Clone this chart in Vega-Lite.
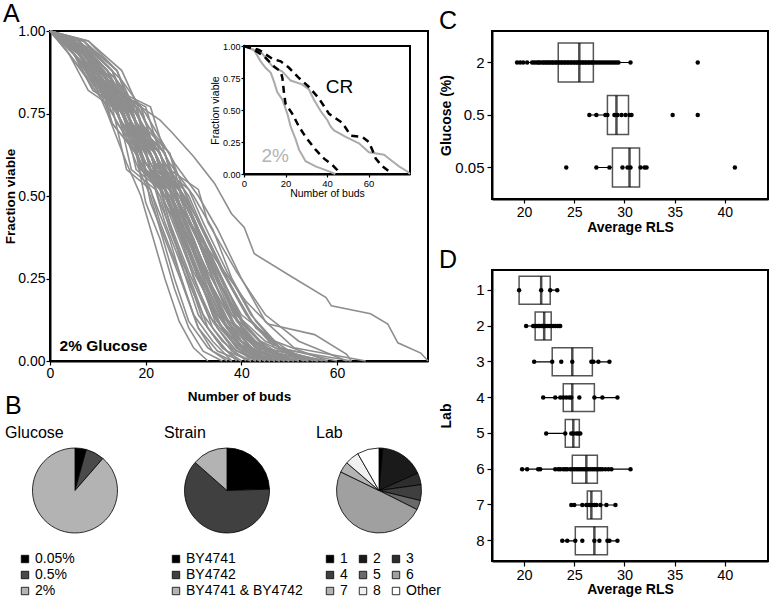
{
"$schema": "https://vega.github.io/schema/vega-lite/v6.json",
"background": "white",
"padding": {"left": 2, "top": 1, "right": 0, "bottom": 0},
"config": {
 "font": "Liberation Sans",
 "view": {"stroke": "black", "strokeWidth": 2},
 "axis": {"grid": false, "domainColor": "black", "domainWidth": 2, "tickColor": "black", "tickWidth": 1.2, "labelColor": "black", "titleColor": "black", "labelFontSize": 15, "titleFontSize": 14, "titleFontWeight": "bold", "labelFlush": false, "labelPadding": 2, "tickSize": 5},
 "title": {"fontSize": 25, "fontWeight": "normal", "anchor": "start", "color": "black"},
 "legend": {"symbolType": "square", "symbolSize": 55, "symbolStrokeColor": "black", "symbolStrokeWidth": 0.8, "labelFontSize": 14, "labelColor": "black", "rowPadding": 2, "labelOffset": 3, "padding": 0}
},
"datasets": {
 "curves": [
{"c":1,"x":0,"y":1},{"c":1,"x":4,"y":0.95},{"c":1,"x":9,"y":0.85},{"c":1,"x":12,"y":0.75},{"c":1,"x":16,"y":0.6},{"c":1,"x":19,"y":0.5},{"c":1,"x":21,"y":0.4},{"c":1,"x":24,"y":0.25},{"c":1,"x":27,"y":0.12},{"c":1,"x":30,"y":0.04},{"c":1,"x":33,"y":0},
{"c":2,"x":0,"y":1},{"c":2,"x":5,"y":0.97},{"c":2,"x":10,"y":0.88},{"c":2,"x":13,"y":0.72},{"c":2,"x":18,"y":0.63},{"c":2,"x":20,"y":0.48},{"c":2,"x":23,"y":0.37},{"c":2,"x":26,"y":0.22},{"c":2,"x":29,"y":0.1},{"c":2,"x":32,"y":0.03},{"c":2,"x":36,"y":0},
{"c":3,"x":0,"y":1},{"c":3,"x":4,"y":0.93},{"c":3,"x":8,"y":0.82},{"c":3,"x":13,"y":0.77},{"c":3,"x":16,"y":0.58},{"c":3,"x":21,"y":0.52},{"c":3,"x":23,"y":0.42},{"c":3,"x":27,"y":0.27},{"c":3,"x":30,"y":0.14},{"c":3,"x":34,"y":0.06},{"c":3,"x":38,"y":0},
{"c":4,"x":0,"y":1},{"c":4,"x":6,"y":0.95},{"c":4,"x":11,"y":0.85},{"c":4,"x":14,"y":0.75},{"c":4,"x":18,"y":0.6},{"c":4,"x":21,"y":0.5},{"c":4,"x":23,"y":0.4},{"c":4,"x":26,"y":0.25},{"c":4,"x":29,"y":0.12},{"c":4,"x":33,"y":0.04},{"c":4,"x":37,"y":0},
{"c":5,"x":0,"y":1},{"c":5,"x":4,"y":0.97},{"c":5,"x":9,"y":0.88},{"c":5,"x":13,"y":0.72},{"c":5,"x":18,"y":0.63},{"c":5,"x":22,"y":0.48},{"c":5,"x":25,"y":0.37},{"c":5,"x":28,"y":0.22},{"c":5,"x":31,"y":0.1},{"c":5,"x":34,"y":0.03},{"c":5,"x":38,"y":0},
{"c":6,"x":0,"y":1},{"c":6,"x":5,"y":0.93},{"c":6,"x":9,"y":0.82},{"c":6,"x":14,"y":0.77},{"c":6,"x":17,"y":0.58},{"c":6,"x":22,"y":0.52},{"c":6,"x":24,"y":0.42},{"c":6,"x":28,"y":0.27},{"c":6,"x":32,"y":0.14},{"c":6,"x":36,"y":0.06},{"c":6,"x":41,"y":0},
{"c":7,"x":0,"y":1},{"c":7,"x":5,"y":0.95},{"c":7,"x":10,"y":0.85},{"c":7,"x":14,"y":0.75},{"c":7,"x":19,"y":0.6},{"c":7,"x":23,"y":0.5},{"c":7,"x":25,"y":0.4},{"c":7,"x":29,"y":0.25},{"c":7,"x":32,"y":0.12},{"c":7,"x":36,"y":0.04},{"c":7,"x":40,"y":0},
{"c":8,"x":0,"y":1},{"c":8,"x":6,"y":0.97},{"c":8,"x":11,"y":0.88},{"c":8,"x":15,"y":0.72},{"c":8,"x":20,"y":0.63},{"c":8,"x":23,"y":0.48},{"c":8,"x":26,"y":0.37},{"c":8,"x":30,"y":0.22},{"c":8,"x":33,"y":0.1},{"c":8,"x":37,"y":0.03},{"c":8,"x":42,"y":0},
{"c":9,"x":0,"y":1},{"c":9,"x":5,"y":0.93},{"c":9,"x":9,"y":0.82},{"c":9,"x":15,"y":0.77},{"c":9,"x":18,"y":0.58},{"c":9,"x":23,"y":0.52},{"c":9,"x":25,"y":0.42},{"c":9,"x":29,"y":0.27},{"c":9,"x":33,"y":0.14},{"c":9,"x":38,"y":0.06},{"c":9,"x":44,"y":0},
{"c":10,"x":0,"y":1},{"c":10,"x":4,"y":0.95},{"c":10,"x":10,"y":0.85},{"c":10,"x":15,"y":0.75},{"c":10,"x":19,"y":0.6},{"c":10,"x":24,"y":0.5},{"c":10,"x":27,"y":0.4},{"c":10,"x":30,"y":0.25},{"c":10,"x":34,"y":0.12},{"c":10,"x":38,"y":0.04},{"c":10,"x":43,"y":0},
{"c":11,"x":0,"y":1},{"c":11,"x":6,"y":0.97},{"c":11,"x":12,"y":0.88},{"c":11,"x":16,"y":0.72},{"c":11,"x":21,"y":0.63},{"c":11,"x":24,"y":0.48},{"c":11,"x":27,"y":0.37},{"c":11,"x":31,"y":0.22},{"c":11,"x":34,"y":0.1},{"c":11,"x":38,"y":0.03},{"c":11,"x":42,"y":0},
{"c":12,"x":0,"y":1},{"c":12,"x":5,"y":0.93},{"c":12,"x":10,"y":0.82},{"c":12,"x":16,"y":0.77},{"c":12,"x":19,"y":0.58},{"c":12,"x":24,"y":0.52},{"c":12,"x":26,"y":0.42},{"c":12,"x":30,"y":0.27},{"c":12,"x":35,"y":0.14},{"c":12,"x":40,"y":0.06},{"c":12,"x":46,"y":0},
{"c":13,"x":0,"y":1},{"c":13,"x":7,"y":0.95},{"c":13,"x":12,"y":0.85},{"c":13,"x":16,"y":0.75},{"c":13,"x":20,"y":0.6},{"c":13,"x":24,"y":0.5},{"c":13,"x":27,"y":0.4},{"c":13,"x":31,"y":0.25},{"c":13,"x":35,"y":0.12},{"c":13,"x":39,"y":0.04},{"c":13,"x":45,"y":0},
{"c":14,"x":0,"y":1},{"c":14,"x":5,"y":0.97},{"c":14,"x":11,"y":0.88},{"c":14,"x":15,"y":0.72},{"c":14,"x":21,"y":0.63},{"c":14,"x":25,"y":0.48},{"c":14,"x":28,"y":0.37},{"c":14,"x":32,"y":0.22},{"c":14,"x":36,"y":0.1},{"c":14,"x":41,"y":0.03},{"c":14,"x":48,"y":0},
{"c":15,"x":0,"y":1},{"c":15,"x":6,"y":0.95},{"c":15,"x":11,"y":0.85},{"c":15,"x":15,"y":0.75},{"c":15,"x":21,"y":0.6},{"c":15,"x":24,"y":0.5},{"c":15,"x":27,"y":0.4},{"c":15,"x":31,"y":0.25},{"c":15,"x":35,"y":0.12},{"c":15,"x":40,"y":0.04},{"c":15,"x":44,"y":0},
{"c":16,"x":0,"y":1},{"c":16,"x":6,"y":0.93},{"c":16,"x":10,"y":0.82},{"c":16,"x":16,"y":0.77},{"c":16,"x":20,"y":0.58},{"c":16,"x":25,"y":0.52},{"c":16,"x":27,"y":0.42},{"c":16,"x":32,"y":0.27},{"c":16,"x":36,"y":0.14},{"c":16,"x":42,"y":0.06},{"c":16,"x":50,"y":0},
{"c":17,"x":0,"y":1},{"c":17,"x":5,"y":0.95},{"c":17,"x":11,"y":0.85},{"c":17,"x":16,"y":0.75},{"c":17,"x":21,"y":0.6},{"c":17,"x":25,"y":0.5},{"c":17,"x":28,"y":0.4},{"c":17,"x":32,"y":0.25},{"c":17,"x":35,"y":0.12},{"c":17,"x":39,"y":0.04},{"c":17,"x":43,"y":0},
{"c":18,"x":0,"y":1},{"c":18,"x":7,"y":0.97},{"c":18,"x":13,"y":0.88},{"c":18,"x":17,"y":0.72},{"c":18,"x":22,"y":0.63},{"c":18,"x":25,"y":0.48},{"c":18,"x":29,"y":0.37},{"c":18,"x":33,"y":0.22},{"c":18,"x":37,"y":0.1},{"c":18,"x":42,"y":0.03},{"c":18,"x":47,"y":0},
{"c":19,"x":0,"y":1},{"c":19,"x":6,"y":0.95},{"c":19,"x":12,"y":0.85},{"c":19,"x":15,"y":0.75},{"c":19,"x":20,"y":0.6},{"c":19,"x":25,"y":0.5},{"c":19,"x":29,"y":0.4},{"c":19,"x":33,"y":0.25},{"c":19,"x":38,"y":0.12},{"c":19,"x":44,"y":0.04},{"c":19,"x":52,"y":0},
{"c":20,"x":0,"y":1},{"c":20,"x":5,"y":0.93},{"c":20,"x":11,"y":0.82},{"c":20,"x":17,"y":0.77},{"c":20,"x":20,"y":0.58},{"c":20,"x":26,"y":0.52},{"c":20,"x":28,"y":0.42},{"c":20,"x":32,"y":0.27},{"c":20,"x":36,"y":0.14},{"c":20,"x":40,"y":0.06},{"c":20,"x":45,"y":0},
{"c":21,"x":0,"y":1},{"c":21,"x":6,"y":0.97},{"c":21,"x":12,"y":0.88},{"c":21,"x":16,"y":0.72},{"c":21,"x":22,"y":0.63},{"c":21,"x":26,"y":0.48},{"c":21,"x":29,"y":0.37},{"c":21,"x":33,"y":0.22},{"c":21,"x":37,"y":0.1},{"c":21,"x":41,"y":0.03},{"c":21,"x":46,"y":0},
{"c":22,"x":0,"y":1},{"c":22,"x":6,"y":0.95},{"c":22,"x":12,"y":0.85},{"c":22,"x":16,"y":0.75},{"c":22,"x":22,"y":0.6},{"c":22,"x":26,"y":0.5},{"c":22,"x":29,"y":0.4},{"c":22,"x":33,"y":0.25},{"c":22,"x":37,"y":0.12},{"c":22,"x":41,"y":0.04},{"c":22,"x":49,"y":0},
{"c":23,"x":0,"y":1},{"c":23,"x":7,"y":0.93},{"c":23,"x":12,"y":0.82},{"c":23,"x":18,"y":0.77},{"c":23,"x":21,"y":0.58},{"c":23,"x":26,"y":0.52},{"c":23,"x":28,"y":0.42},{"c":23,"x":33,"y":0.27},{"c":23,"x":38,"y":0.14},{"c":23,"x":44,"y":0.06},{"c":23,"x":53,"y":0},
{"c":24,"x":0,"y":1},{"c":24,"x":5,"y":0.97},{"c":24,"x":11,"y":0.88},{"c":24,"x":16,"y":0.72},{"c":24,"x":23,"y":0.63},{"c":24,"x":26,"y":0.48},{"c":24,"x":30,"y":0.37},{"c":24,"x":34,"y":0.22},{"c":24,"x":38,"y":0.1},{"c":24,"x":43,"y":0.03},{"c":24,"x":50,"y":0},
{"c":25,"x":0,"y":1},{"c":25,"x":6,"y":0.95},{"c":25,"x":12,"y":0.85},{"c":25,"x":16,"y":0.75},{"c":25,"x":22,"y":0.6},{"c":25,"x":26,"y":0.5},{"c":25,"x":30,"y":0.4},{"c":25,"x":34,"y":0.25},{"c":25,"x":38,"y":0.12},{"c":25,"x":42,"y":0.04},{"c":25,"x":46,"y":0},
{"c":26,"x":0,"y":1},{"c":26,"x":6,"y":0.93},{"c":26,"x":11,"y":0.82},{"c":26,"x":17,"y":0.77},{"c":26,"x":21,"y":0.58},{"c":26,"x":27,"y":0.52},{"c":26,"x":29,"y":0.42},{"c":26,"x":34,"y":0.27},{"c":26,"x":39,"y":0.14},{"c":26,"x":45,"y":0.06},{"c":26,"x":55,"y":0},
{"c":27,"x":0,"y":1},{"c":27,"x":7,"y":0.97},{"c":27,"x":14,"y":0.88},{"c":27,"x":18,"y":0.72},{"c":27,"x":24,"y":0.63},{"c":27,"x":27,"y":0.48},{"c":27,"x":31,"y":0.37},{"c":27,"x":35,"y":0.22},{"c":27,"x":39,"y":0.1},{"c":27,"x":44,"y":0.03},{"c":27,"x":51,"y":0},
{"c":28,"x":0,"y":1},{"c":28,"x":6,"y":0.95},{"c":28,"x":12,"y":0.85},{"c":28,"x":17,"y":0.75},{"c":28,"x":22,"y":0.6},{"c":28,"x":27,"y":0.5},{"c":28,"x":30,"y":0.4},{"c":28,"x":34,"y":0.25},{"c":28,"x":38,"y":0.12},{"c":28,"x":43,"y":0.04},{"c":28,"x":48,"y":0},
{"c":29,"x":0,"y":1},{"c":29,"x":5,"y":0.93},{"c":29,"x":11,"y":0.82},{"c":29,"x":18,"y":0.77},{"c":29,"x":22,"y":0.58},{"c":29,"x":27,"y":0.52},{"c":29,"x":29,"y":0.42},{"c":29,"x":35,"y":0.27},{"c":29,"x":40,"y":0.14},{"c":29,"x":47,"y":0.06},{"c":29,"x":58,"y":0},
{"c":30,"x":0,"y":1},{"c":30,"x":7,"y":0.95},{"c":30,"x":13,"y":0.85},{"c":30,"x":17,"y":0.75},{"c":30,"x":23,"y":0.6},{"c":30,"x":28,"y":0.5},{"c":30,"x":31,"y":0.4},{"c":30,"x":35,"y":0.25},{"c":30,"x":40,"y":0.12},{"c":30,"x":45,"y":0.04},{"c":30,"x":50,"y":0},
{"c":31,"x":0,"y":1},{"c":31,"x":6,"y":0.97},{"c":31,"x":13,"y":0.88},{"c":31,"x":18,"y":0.72},{"c":31,"x":24,"y":0.63},{"c":31,"x":27,"y":0.48},{"c":31,"x":31,"y":0.37},{"c":31,"x":36,"y":0.22},{"c":31,"x":41,"y":0.1},{"c":31,"x":46,"y":0.03},{"c":31,"x":54,"y":0},
{"c":32,"x":0,"y":1},{"c":32,"x":7,"y":0.93},{"c":32,"x":13,"y":0.82},{"c":32,"x":19,"y":0.77},{"c":32,"x":23,"y":0.58},{"c":32,"x":28,"y":0.52},{"c":32,"x":31,"y":0.42},{"c":32,"x":36,"y":0.27},{"c":32,"x":41,"y":0.14},{"c":32,"x":46,"y":0.06},{"c":32,"x":52,"y":0},
{"c":33,"x":0,"y":1},{"c":33,"x":6,"y":0.95},{"c":33,"x":13,"y":0.85},{"c":33,"x":18,"y":0.75},{"c":33,"x":23,"y":0.6},{"c":33,"x":28,"y":0.5},{"c":33,"x":31,"y":0.4},{"c":33,"x":36,"y":0.25},{"c":33,"x":40,"y":0.12},{"c":33,"x":45,"y":0.04},{"c":33,"x":56,"y":0},
{"c":34,"x":0,"y":1},{"c":34,"x":7,"y":0.97},{"c":34,"x":14,"y":0.88},{"c":34,"x":19,"y":0.72},{"c":34,"x":25,"y":0.63},{"c":34,"x":28,"y":0.48},{"c":34,"x":32,"y":0.37},{"c":34,"x":37,"y":0.22},{"c":34,"x":41,"y":0.1},{"c":34,"x":46,"y":0.03},{"c":34,"x":50,"y":0},
{"c":35,"x":0,"y":1},{"c":35,"x":7,"y":0.95},{"c":35,"x":14,"y":0.85},{"c":35,"x":18,"y":0.75},{"c":35,"x":24,"y":0.6},{"c":35,"x":29,"y":0.5},{"c":35,"x":32,"y":0.4},{"c":35,"x":37,"y":0.25},{"c":35,"x":42,"y":0.12},{"c":35,"x":48,"y":0.04},{"c":35,"x":60,"y":0},
{"c":36,"x":0,"y":1},{"c":36,"x":6,"y":0.93},{"c":36,"x":13,"y":0.82},{"c":36,"x":20,"y":0.77},{"c":36,"x":24,"y":0.58},{"c":36,"x":29,"y":0.52},{"c":36,"x":32,"y":0.42},{"c":36,"x":37,"y":0.27},{"c":36,"x":42,"y":0.14},{"c":36,"x":47,"y":0.06},{"c":36,"x":53,"y":0},
{"c":37,"x":0,"y":1},{"c":37,"x":8,"y":0.97},{"c":37,"x":15,"y":0.88},{"c":37,"x":20,"y":0.72},{"c":37,"x":25,"y":0.63},{"c":37,"x":29,"y":0.48},{"c":37,"x":33,"y":0.37},{"c":37,"x":38,"y":0.22},{"c":37,"x":43,"y":0.1},{"c":37,"x":49,"y":0.03},{"c":37,"x":57,"y":0},
{"c":38,"x":0,"y":1},{"c":38,"x":7,"y":0.95},{"c":38,"x":14,"y":0.85},{"c":38,"x":19,"y":0.75},{"c":38,"x":25,"y":0.6},{"c":38,"x":30,"y":0.5},{"c":38,"x":34,"y":0.4},{"c":38,"x":38,"y":0.25},{"c":38,"x":43,"y":0.12},{"c":38,"x":48,"y":0.04},{"c":38,"x":54,"y":0},
{"c":39,"x":0,"y":1},{"c":39,"x":7,"y":0.93},{"c":39,"x":14,"y":0.82},{"c":39,"x":21,"y":0.77},{"c":39,"x":25,"y":0.58},{"c":39,"x":31,"y":0.52},{"c":39,"x":33,"y":0.42},{"c":39,"x":39,"y":0.27},{"c":39,"x":45,"y":0.14},{"c":39,"x":52,"y":0.06},{"c":39,"x":62,"y":0},
{"c":40,"x":0,"y":1},{"c":40,"x":8,"y":0.95},{"c":40,"x":15,"y":0.85},{"c":40,"x":20,"y":0.75},{"c":40,"x":26,"y":0.6},{"c":40,"x":31,"y":0.5},{"c":40,"x":35,"y":0.4},{"c":40,"x":40,"y":0.25},{"c":40,"x":45,"y":0.12},{"c":40,"x":51,"y":0.04},{"c":40,"x":66,"y":0},
{"c":41,"x":0,"y":1},{"c":41,"x":4,"y":0.97},{"c":41,"x":9,"y":0.88},{"c":41,"x":14,"y":0.72},{"c":41,"x":19,"y":0.63},{"c":41,"x":21,"y":0.48},{"c":41,"x":24,"y":0.37},{"c":41,"x":28,"y":0.22},{"c":41,"x":31,"y":0.1},{"c":41,"x":35,"y":0.03},{"c":41,"x":40,"y":0},
{"c":42,"x":0,"y":1},{"c":42,"x":6,"y":0.93},{"c":42,"x":11,"y":0.82},{"c":42,"x":16,"y":0.77},{"c":42,"x":19,"y":0.58},{"c":42,"x":24,"y":0.52},{"c":42,"x":26,"y":0.42},{"c":42,"x":31,"y":0.27},{"c":42,"x":35,"y":0.14},{"c":42,"x":40,"y":0.06},{"c":42,"x":47,"y":0},
{"c":43,"x":0,"y":1},{"c":43,"x":4,"y":0.95},{"c":43,"x":9,"y":0.85},{"c":43,"x":14,"y":0.75},{"c":43,"x":20,"y":0.6},{"c":43,"x":26,"y":0.5},{"c":43,"x":29,"y":0.4},{"c":43,"x":33,"y":0.25},{"c":43,"x":37,"y":0.12},{"c":43,"x":42,"y":0.04},{"c":43,"x":48,"y":0},
{"c":44,"x":0,"y":1},{"c":44,"x":8,"y":0.97},{"c":44,"x":14,"y":0.88},{"c":44,"x":18,"y":0.72},{"c":44,"x":23,"y":0.63},{"c":44,"x":26,"y":0.48},{"c":44,"x":30,"y":0.37},{"c":44,"x":34,"y":0.22},{"c":44,"x":39,"y":0.1},{"c":44,"x":45,"y":0.03},{"c":44,"x":56,"y":0},
{"c":45,"x":0,"y":1},{"c":45,"x":5,"y":0.95},{"c":45,"x":10,"y":0.85},{"c":45,"x":15,"y":0.75},{"c":45,"x":22,"y":0.6},{"c":45,"x":28,"y":0.5},{"c":45,"x":32,"y":0.4},{"c":45,"x":37,"y":0.25},{"c":45,"x":42,"y":0.12},{"c":45,"x":47,"y":0.04},{"c":45,"x":63,"y":0},
{"c":46,"x":0,"y":1},{"c":46,"x":3,"y":0.95},{"c":46,"x":8,"y":0.85},{"c":46,"x":13,"y":0.75},{"c":46,"x":19,"y":0.6},{"c":46,"x":24,"y":0.5},{"c":46,"x":28,"y":0.4},{"c":46,"x":33,"y":0.25},{"c":46,"x":37,"y":0.12},{"c":46,"x":41,"y":0.04},{"c":46,"x":45,"y":0},
{"c":47,"x":0,"y":1},{"c":47,"x":7,"y":0.93},{"c":47,"x":12,"y":0.82},{"c":47,"x":16,"y":0.77},{"c":47,"x":19,"y":0.58},{"c":47,"x":23,"y":0.52},{"c":47,"x":25,"y":0.42},{"c":47,"x":28,"y":0.27},{"c":47,"x":31,"y":0.14},{"c":47,"x":35,"y":0.06},{"c":47,"x":39,"y":0},
{"c":48,"x":0,"y":1},{"c":48,"x":5,"y":0.97},{"c":48,"x":10,"y":0.88},{"c":48,"x":15,"y":0.72},{"c":48,"x":22,"y":0.63},{"c":48,"x":27,"y":0.48},{"c":48,"x":31,"y":0.37},{"c":48,"x":36,"y":0.22},{"c":48,"x":40,"y":0.1},{"c":48,"x":44,"y":0.03},{"c":48,"x":49,"y":0},
{"c":49,"x":0,"y":1},{"c":49,"x":4,"y":0.97},{"c":49,"x":9,"y":0.9},{"c":49,"x":14,"y":0.82},{"c":49,"x":19,"y":0.77},{"c":49,"x":23,"y":0.73},{"c":49,"x":25.4,"y":0.694},{"c":49,"x":30,"y":0.62},{"c":49,"x":34.4,"y":0.538},{"c":49,"x":37.9,"y":0.447},{"c":49,"x":40.6,"y":0.405},{"c":49,"x":42.7,"y":0.325},{"c":49,"x":50,"y":0.26},{"c":49,"x":57.7,"y":0.192},{"c":49,"x":58.8,"y":0.167},{"c":49,"x":67,"y":0.143},{"c":49,"x":70.6,"y":0.112},{"c":49,"x":72.7,"y":0.055},{"c":49,"x":77.5,"y":0.024},{"c":49,"x":79,"y":0},
{"c":50,"x":0,"y":1},{"c":50,"x":6,"y":0.94},{"c":50,"x":12,"y":0.85},{"c":50,"x":17,"y":0.75},{"c":50,"x":22,"y":0.6},{"c":50,"x":27,"y":0.47},{"c":50,"x":32,"y":0.36},{"c":50,"x":37,"y":0.26},{"c":50,"x":41,"y":0.18},{"c":50,"x":45.6,"y":0.112},{"c":50,"x":55.3,"y":0.08},{"c":50,"x":62,"y":0.02},{"c":50,"x":63,"y":0},
{"c":51,"x":0,"y":1},{"c":51,"x":6,"y":0.97},{"c":51,"x":11,"y":0.88},{"c":51,"x":16,"y":0.72},{"c":51,"x":21,"y":0.63},{"c":51,"x":24,"y":0.48},{"c":51,"x":28,"y":0.37},{"c":51,"x":32,"y":0.22},{"c":51,"x":35,"y":0.1},{"c":51,"x":39,"y":0.03},{"c":51,"x":44,"y":0},
{"c":52,"x":0,"y":1},{"c":52,"x":5,"y":0.93},{"c":52,"x":12,"y":0.82},{"c":52,"x":17,"y":0.77},{"c":52,"x":21,"y":0.58},{"c":52,"x":25,"y":0.52},{"c":52,"x":27,"y":0.42},{"c":52,"x":31,"y":0.27},{"c":52,"x":35,"y":0.14},{"c":52,"x":39,"y":0.06},{"c":52,"x":44,"y":0},
{"c":53,"x":0,"y":1},{"c":53,"x":7,"y":0.95},{"c":53,"x":13,"y":0.85},{"c":53,"x":17,"y":0.75},{"c":53,"x":22,"y":0.6},{"c":53,"x":26,"y":0.5},{"c":53,"x":29,"y":0.4},{"c":53,"x":32,"y":0.25},{"c":53,"x":36,"y":0.12},{"c":53,"x":40,"y":0.04},{"c":53,"x":45,"y":0},
{"c":54,"x":0,"y":1},{"c":54,"x":5,"y":0.97},{"c":54,"x":12,"y":0.88},{"c":54,"x":17,"y":0.72},{"c":54,"x":23,"y":0.63},{"c":54,"x":27,"y":0.48},{"c":54,"x":30,"y":0.37},{"c":54,"x":34,"y":0.22},{"c":54,"x":37,"y":0.1},{"c":54,"x":41,"y":0.03},{"c":54,"x":47,"y":0},
{"c":55,"x":0,"y":1},{"c":55,"x":6,"y":0.93},{"c":55,"x":12,"y":0.82},{"c":55,"x":18,"y":0.77},{"c":55,"x":22,"y":0.58},{"c":55,"x":27,"y":0.52},{"c":55,"x":30,"y":0.42},{"c":55,"x":34,"y":0.27},{"c":55,"x":38,"y":0.14},{"c":55,"x":43,"y":0.06},{"c":55,"x":49,"y":0},
{"c":56,"x":0,"y":1},{"c":56,"x":5,"y":0.95},{"c":56,"x":11,"y":0.85},{"c":56,"x":17,"y":0.75},{"c":56,"x":23,"y":0.6},{"c":56,"x":27,"y":0.5},{"c":56,"x":30,"y":0.4},{"c":56,"x":34,"y":0.25},{"c":56,"x":38,"y":0.12},{"c":56,"x":44,"y":0.04},{"c":56,"x":51,"y":0},
{"c":57,"x":0,"y":1},{"c":57,"x":7,"y":0.97},{"c":57,"x":13,"y":0.88},{"c":57,"x":17,"y":0.72},{"c":57,"x":22,"y":0.63},{"c":57,"x":25,"y":0.48},{"c":57,"x":28,"y":0.37},{"c":57,"x":32,"y":0.22},{"c":57,"x":36,"y":0.1},{"c":57,"x":40,"y":0.03},{"c":57,"x":44,"y":0},
{"c":58,"x":0,"y":1},{"c":58,"x":4,"y":0.93},{"c":58,"x":10,"y":0.82},{"c":58,"x":15,"y":0.77},{"c":58,"x":20,"y":0.58},{"c":58,"x":24,"y":0.52},{"c":58,"x":27,"y":0.42},{"c":58,"x":31,"y":0.27},{"c":58,"x":34,"y":0.14},{"c":58,"x":38,"y":0.06},{"c":58,"x":42,"y":0},
{"c":59,"x":0,"y":1},{"c":59,"x":6,"y":0.95},{"c":59,"x":13,"y":0.85},{"c":59,"x":18,"y":0.75},{"c":59,"x":24,"y":0.6},{"c":59,"x":28,"y":0.5},{"c":59,"x":31,"y":0.4},{"c":59,"x":35,"y":0.25},{"c":59,"x":39,"y":0.12},{"c":59,"x":44,"y":0.04},{"c":59,"x":58,"y":0},
{"c":60,"x":0,"y":1},{"c":60,"x":6,"y":0.97},{"c":60,"x":12,"y":0.88},{"c":60,"x":18,"y":0.72},{"c":60,"x":24,"y":0.63},{"c":60,"x":28,"y":0.48},{"c":60,"x":32,"y":0.37},{"c":60,"x":36,"y":0.22},{"c":60,"x":40,"y":0.1},{"c":60,"x":45,"y":0.03},{"c":60,"x":52,"y":0},
{"c":61,"x":0,"y":1},{"c":61,"x":5,"y":0.95},{"c":61,"x":10,"y":0.85},{"c":61,"x":14,"y":0.75},{"c":61,"x":20,"y":0.6},{"c":61,"x":25,"y":0.5},{"c":61,"x":28,"y":0.4},{"c":61,"x":33,"y":0.25},{"c":61,"x":37,"y":0.12},{"c":61,"x":43,"y":0.04},{"c":61,"x":54,"y":0},
{"c":62,"x":0,"y":1},{"c":62,"x":8,"y":0.93},{"c":62,"x":14,"y":0.82},{"c":62,"x":19,"y":0.77},{"c":62,"x":23,"y":0.58},{"c":62,"x":27,"y":0.52},{"c":62,"x":30,"y":0.42},{"c":62,"x":35,"y":0.27},{"c":62,"x":39,"y":0.14},{"c":62,"x":44,"y":0.06},{"c":62,"x":50,"y":0}
 ],
 "insetGray": [
{"s":"a","x":0,"y":1},{"s":"a","x":4.8,"y":0.97},{"s":"a","x":8,"y":0.88},{"s":"a","x":10.4,"y":0.83},{"s":"a","x":12.9,"y":0.79},{"s":"a","x":14.5,"y":0.72},{"s":"a","x":16,"y":0.64},{"s":"a","x":18.5,"y":0.58},{"s":"a","x":20.9,"y":0.47},{"s":"a","x":22.5,"y":0.37},{"s":"a","x":24.9,"y":0.27},{"s":"a","x":26.5,"y":0.19},{"s":"a","x":29.7,"y":0.1},{"s":"a","x":34.5,"y":0.06},{"s":"a","x":41,"y":0.02},{"s":"a","x":44,"y":0},
{"s":"b","x":0,"y":1},{"s":"b","x":8.8,"y":0.94},{"s":"b","x":13.7,"y":0.84},{"s":"b","x":18.5,"y":0.8},{"s":"b","x":22.5,"y":0.73},{"s":"b","x":28,"y":0.7},{"s":"b","x":31.3,"y":0.66},{"s":"b","x":33.7,"y":0.58},{"s":"b","x":37,"y":0.49},{"s":"b","x":40.2,"y":0.42},{"s":"b","x":41.8,"y":0.37},{"s":"b","x":43.4,"y":0.34},{"s":"b","x":49,"y":0.29},{"s":"b","x":55.4,"y":0.24},{"s":"b","x":60.2,"y":0.17},{"s":"b","x":67.5,"y":0.15},{"s":"b","x":71.5,"y":0.1},{"s":"b","x":74.7,"y":0.06},{"s":"b","x":78.7,"y":0.02},{"s":"b","x":80,"y":0}
 ],
 "insetDash": [
{"s":"c","x":0,"y":1},{"s":"c","x":4,"y":0.98},{"s":"c","x":9.6,"y":0.92},{"s":"c","x":14.5,"y":0.84},{"s":"c","x":17.7,"y":0.8},{"s":"c","x":18.5,"y":0.75},{"s":"c","x":19.3,"y":0.63},{"s":"c","x":20,"y":0.55},{"s":"c","x":23.3,"y":0.47},{"s":"c","x":26.5,"y":0.37},{"s":"c","x":29.7,"y":0.29},{"s":"c","x":34.5,"y":0.19},{"s":"c","x":38.6,"y":0.12},{"s":"c","x":42.6,"y":0.07},{"s":"c","x":45,"y":0.03},{"s":"c","x":45.8,"y":0},
{"s":"d","x":0,"y":1},{"s":"d","x":7.2,"y":0.97},{"s":"d","x":13.7,"y":0.9},{"s":"d","x":17.7,"y":0.88},{"s":"d","x":21.7,"y":0.83},{"s":"d","x":26.5,"y":0.75},{"s":"d","x":31.3,"y":0.68},{"s":"d","x":36.1,"y":0.59},{"s":"d","x":41,"y":0.47},{"s":"d","x":47.4,"y":0.4},{"s":"d","x":51.4,"y":0.3},{"s":"d","x":57,"y":0.29},{"s":"d","x":60.2,"y":0.25},{"s":"d","x":61.8,"y":0.19},{"s":"d","x":63.5,"y":0.12},{"s":"d","x":66.7,"y":0.06},{"s":"d","x":69.9,"y":0.02},{"s":"d","x":70.7,"y":0}
 ],
 "pieGlucose": [{"k":"0.05%","v":4.3,"o":1},{"k":"0.5%","v":7.1,"o":2},{"k":"2%","v":88.6,"o":3}],
 "pieStrain": [{"k":"BY4741","v":24.5,"o":1},{"k":"BY4742","v":62,"o":2},{"k":"BY4741 & BY4742","v":13.5,"o":3}],
 "pieLab": [{"k":"1","v":1.5,"o":1},{"k":"2","v":16.8,"o":2},{"k":"3","v":4.5,"o":3},{"k":"4","v":6,"o":4},{"k":"5","v":3.6,"o":5},{"k":"6","v":49.8,"o":6},{"k":"7","v":4.1,"o":7},{"k":"8","v":5.4,"o":8},{"k":"Other","v":8.3,"o":9}],
 "boxC": [
{"g":"2","lo":19.3,"q1":23.4,"med":25.5,"q3":26.9,"hi":30.6},
{"g":"0.5","lo":26.5,"q1":28.3,"med":29.2,"q3":30.4,"hi":30.7},
{"g":"0.05","lo":27.2,"q1":28.8,"med":30.5,"q3":31.5,"hi":32.2}
 ],
 "ptsC": [
{"g":"2","v":19.3},{"g":"2","v":19.6},{"g":"2","v":19.9},{"g":"2","v":20.3},{"g":"2","v":20.8},{"g":"2","v":21.0},{"g":"2","v":21.2},{"g":"2","v":21.4},{"g":"2","v":21.5},{"g":"2","v":21.7},{"g":"2","v":21.9},{"g":"2","v":22.0},{"g":"2","v":22.2},{"g":"2","v":22.3},{"g":"2","v":22.5},{"g":"2","v":22.6},{"g":"2","v":22.8},{"g":"2","v":22.9},{"g":"2","v":23.1},{"g":"2","v":23.2},{"g":"2","v":23.4},{"g":"2","v":23.5},{"g":"2","v":23.7},{"g":"2","v":23.8},{"g":"2","v":24.0},{"g":"2","v":24.1},{"g":"2","v":24.3},{"g":"2","v":24.4},{"g":"2","v":24.6},{"g":"2","v":24.7},{"g":"2","v":24.9},{"g":"2","v":25.0},{"g":"2","v":25.2},{"g":"2","v":25.3},{"g":"2","v":25.5},{"g":"2","v":25.6},{"g":"2","v":25.8},{"g":"2","v":25.9},{"g":"2","v":26.1},{"g":"2","v":26.2},{"g":"2","v":26.4},{"g":"2","v":26.5},{"g":"2","v":26.7},{"g":"2","v":26.8},{"g":"2","v":27.0},{"g":"2","v":27.2},{"g":"2","v":27.4},{"g":"2","v":27.6},{"g":"2","v":27.8},{"g":"2","v":28.0},{"g":"2","v":28.2},{"g":"2","v":28.4},{"g":"2","v":28.6},{"g":"2","v":28.8},{"g":"2","v":29.0},{"g":"2","v":29.2},{"g":"2","v":29.4},{"g":"2","v":30.6},{"g":"2","v":37.3},
{"g":"0.5","v":26.5},{"g":"0.5","v":27.2},{"g":"0.5","v":28.1},{"g":"0.5","v":28.3},{"g":"0.5","v":29.0},{"g":"0.5","v":29.3},{"g":"0.5","v":29.7},{"g":"0.5","v":30.1},{"g":"0.5","v":30.5},{"g":"0.5","v":30.7},{"g":"0.5","v":34.8},{"g":"0.5","v":37.3},
{"g":"0.05","v":24.2},{"g":"0.05","v":27.2},{"g":"0.05","v":28.5},{"g":"0.05","v":29.8},{"g":"0.05","v":30.3},{"g":"0.05","v":30.6},{"g":"0.05","v":31.6},{"g":"0.05","v":32.0},{"g":"0.05","v":32.2},{"g":"0.05","v":41.0}
 ],
 "boxD": [
{"g":"1","lo":19.5,"q1":19.5,"med":21.7,"q3":22.6,"hi":23.3},
{"g":"2","lo":20.2,"q1":21.1,"med":22.0,"q3":22.7,"hi":23.6},
{"g":"3","lo":21.0,"q1":22.8,"med":24.8,"q3":26.8,"hi":28.5},
{"g":"4","lo":21.9,"q1":23.9,"med":24.8,"q3":27.0,"hi":29.3},
{"g":"5","lo":22.2,"q1":24.1,"med":24.9,"q3":25.5,"hi":25.6},
{"g":"6","lo":19.8,"q1":24.8,"med":26.2,"q3":27.3,"hi":30.6},
{"g":"7","lo":24.7,"q1":26.3,"med":26.7,"q3":27.7,"hi":29.1},
{"g":"8","lo":23.8,"q1":25.1,"med":27.0,"q3":28.3,"hi":29.3}
 ],
 "ptsD": [
{"g":"1","v":19.5},{"g":"1","v":21.7},{"g":"1","v":22.6},{"g":"1","v":23.3},
{"g":"2","v":20.2},{"g":"2","v":20.9},{"g":"2","v":21.0},{"g":"2","v":21.2},{"g":"2","v":21.4},{"g":"2","v":21.5},{"g":"2","v":21.7},{"g":"2","v":21.8},{"g":"2","v":21.9},{"g":"2","v":22.0},{"g":"2","v":22.1},{"g":"2","v":22.3},{"g":"2","v":22.5},{"g":"2","v":22.7},{"g":"2","v":22.9},{"g":"2","v":23.1},{"g":"2","v":23.3},{"g":"2","v":23.5},{"g":"2","v":23.6},
{"g":"3","v":21.0},{"g":"3","v":22.8},{"g":"3","v":23.7},{"g":"3","v":24.8},{"g":"3","v":26.7},{"g":"3","v":26.9},{"g":"3","v":27.4},{"g":"3","v":28.5},
{"g":"4","v":21.9},{"g":"4","v":23.1},{"g":"4","v":23.6},{"g":"4","v":23.9},{"g":"4","v":24.2},{"g":"4","v":24.5},{"g":"4","v":24.7},{"g":"4","v":25.5},{"g":"4","v":27.0},{"g":"4","v":27.8},{"g":"4","v":29.3},
{"g":"5","v":22.2},{"g":"5","v":24.1},{"g":"5","v":24.7},{"g":"5","v":24.9},{"g":"5","v":25.2},{"g":"5","v":25.4},{"g":"5","v":25.6},
{"g":"6","v":19.8},{"g":"6","v":20.3},{"g":"6","v":21.4},{"g":"6","v":21.6},{"g":"6","v":23.1},{"g":"6","v":23.4},{"g":"6","v":23.6},{"g":"6","v":23.9},{"g":"6","v":24.1},{"g":"6","v":24.3},{"g":"6","v":24.6},{"g":"6","v":24.8},{"g":"6","v":25.0},{"g":"6","v":25.2},{"g":"6","v":25.4},{"g":"6","v":25.6},{"g":"6","v":25.8},{"g":"6","v":26.0},{"g":"6","v":26.2},{"g":"6","v":26.4},{"g":"6","v":26.6},{"g":"6","v":26.8},{"g":"6","v":27.0},{"g":"6","v":27.2},{"g":"6","v":27.4},{"g":"6","v":27.6},{"g":"6","v":27.8},{"g":"6","v":28.1},{"g":"6","v":28.4},{"g":"6","v":28.7},{"g":"6","v":30.6},
{"g":"7","v":24.7},{"g":"7","v":25.0},{"g":"7","v":25.8},{"g":"7","v":26.2},{"g":"7","v":26.5},{"g":"7","v":26.7},{"g":"7","v":27.0},{"g":"7","v":27.2},{"g":"7","v":27.6},{"g":"7","v":28.2},{"g":"7","v":29.1},
{"g":"8","v":23.8},{"g":"8","v":24.3},{"g":"8","v":25.1},{"g":"8","v":25.8},{"g":"8","v":27.0},{"g":"8","v":27.5},{"g":"8","v":28.3},{"g":"8","v":28.5},{"g":"8","v":29.3}
 ]
},
"spacing": -4,
"hconcat": [
 {
  "concat": [
   {
    "width": 378, "height": 330,
    "title": {"text": "A", "offset": -3},
    "layer": [
     {"layer": [
       {"data": {"name": "curves"},
        "mark": {"type": "line", "color": "#8e8e8e", "strokeWidth": 1.6},
        "encoding": {
         "x": {"field": "x", "type": "quantitative", "scale": {"domain": [0, 79], "nice": false, "zero": false},
               "axis": {"values": [0, 20, 40, 60], "title": "Number of buds", "labelFontSize": 14, "titleFontSize": 13.5, "tickSize": 4, "labelPadding": 1, "titlePadding": 9}},
         "y": {"field": "y", "type": "quantitative", "scale": {"domain": [0, 1], "nice": false},
               "axis": {"values": [0, 0.25, 0.5, 0.75, 1], "format": ".2f", "title": "Fraction viable", "labelFontSize": 14, "titleFontSize": 13.5, "titleX": -33, "tickSize": 4, "labelPadding": 1}},
         "detail": {"field": "c", "type": "nominal"}
        }},
       {"data": {"values": [{}]},
        "mark": {"type": "text", "text": "2% Glucose", "fontSize": 15.5, "fontWeight": "bold", "align": "left", "baseline": "middle", "color": "black"},
        "encoding": {"x": {"datum": 2, "type": "quantitative"}, "y": {"datum": 0.045, "type": "quantitative"}}}
     ]},
     {"layer": [
       {"data": {"values": [{}]},
        "mark": {"type": "rect", "fill": "white", "stroke": "black", "strokeWidth": 2},
        "encoding": {
         "x": {"datum": 0, "type": "quantitative", "scale": {"domain": [0, 80], "range": [194, 360], "nice": false, "zero": false},
               "axis": {"orient": "bottom", "offset": -187, "values": [0, 20, 40, 60], "title": "Number of buds", "labelFontSize": 9.5, "titleFontSize": 10.5, "titleFontWeight": "normal", "tickSize": 3, "labelPadding": 1, "titlePadding": 1, "domainWidth": 2}},
         "x2": {"datum": 80},
         "y": {"datum": 0, "type": "quantitative", "scale": {"domain": [0, 1], "range": [143, 15], "nice": false},
               "axis": {"orient": "left", "offset": -194, "values": [0, 0.25, 0.5, 0.75, 1], "format": ".2f", "title": "Fraction viable", "labelFontSize": 9, "titleFontSize": 10.5, "titleFontWeight": "normal", "tickSize": 3, "labelPadding": 1, "titlePadding": 2, "domainWidth": 2}},
         "y2": {"datum": 1}
        }},
       {"data": {"name": "insetGray"},
        "mark": {"type": "line", "color": "#ababab", "strokeWidth": 2},
        "encoding": {"x": {"field": "x", "type": "quantitative"}, "y": {"field": "y", "type": "quantitative"}, "detail": {"field": "s", "type": "nominal"}}},
       {"data": {"name": "insetDash"},
        "mark": {"type": "line", "color": "black", "strokeWidth": 2.5, "strokeDash": [7, 5]},
        "encoding": {"x": {"field": "x", "type": "quantitative"}, "y": {"field": "y", "type": "quantitative"}, "detail": {"field": "s", "type": "nominal"}}},
       {"data": {"values": [{}]},
        "mark": {"type": "text", "text": "CR", "fontSize": 19, "color": "black"},
        "encoding": {"x": {"datum": 46, "type": "quantitative"}, "y": {"datum": 0.68, "type": "quantitative"}}},
       {"data": {"values": [{}]},
        "mark": {"type": "text", "text": "2%", "fontSize": 19, "color": "#b3b3b3"},
        "encoding": {"x": {"datum": 15, "type": "quantitative"}, "y": {"datum": 0.14, "type": "quantitative"}}}
     ]}
    ],
    "resolve": {"scale": {"x": "independent", "y": "independent"}}
   },
   {
    "concat": [
     {"width": 50, "height": 85, "view": {"stroke": null},
      "title": {"text": "B", "subtitle": "Glucose", "subtitleFontSize": 16, "subtitleColor": "black", "subtitlePadding": 6, "frame": "group", "dx": -45, "offset": 5},
      "data": {"name": "pieGlucose"},
      "mark": {"type": "arc", "stroke": "black", "strokeWidth": 0.8, "outerRadius": 42.5},
      "encoding": {
       "theta": {"field": "v", "type": "quantitative", "stack": true},
       "order": {"field": "o", "type": "quantitative"},
       "color": {"field": "k", "type": "nominal", "scale": {"domain": ["0.05%", "0.5%", "2%"], "range": ["#000000", "#4a4a4a", "#b3b3b3"]},
                 "legend": {"title": null, "orient": "none", "legendX": -32, "legendY": 104, "direction": "vertical"}}
      }},
     {"width": 50, "height": 85, "view": {"stroke": null},
      "title": {"text": "Strain", "fontSize": 16, "frame": "group", "dx": -38, "offset": 5},
      "data": {"name": "pieStrain"},
      "mark": {"type": "arc", "stroke": "black", "strokeWidth": 0.8, "outerRadius": 42.5},
      "encoding": {
       "theta": {"field": "v", "type": "quantitative", "stack": true},
       "order": {"field": "o", "type": "quantitative"},
       "color": {"field": "k", "type": "nominal", "scale": {"domain": ["BY4741", "BY4742", "BY4741 & BY4742"], "range": ["#000000", "#404040", "#b3b3b3"]},
                 "legend": {"title": null, "orient": "none", "legendX": -33, "legendY": 104, "direction": "vertical"}}
      }},
     {"width": 50, "height": 85, "view": {"stroke": null},
      "title": {"text": "Lab", "fontSize": 16, "frame": "group", "dx": -38, "offset": 5},
      "data": {"name": "pieLab"},
      "mark": {"type": "arc", "stroke": "black", "strokeWidth": 0.8, "outerRadius": 42.5},
      "encoding": {
       "theta": {"field": "v", "type": "quantitative", "stack": true},
       "order": {"field": "o", "type": "quantitative"},
       "color": {"field": "k", "type": "nominal", "scale": {"domain": ["1", "2", "3", "4", "5", "6", "7", "8", "Other"], "range": ["#000000", "#1a1a1a", "#2e2e2e", "#3f3f3f", "#6a6a6a", "#a0a0a0", "#b3b3b3", "#f0f0f0", "#ffffff"]},
                 "legend": {"title": null, "orient": "none", "legendX": -31, "legendY": 104, "columns": 3, "columnPadding": 8, "direction": "horizontal"}}
      }}
    ],
    "columns": 3,
    "align": "all",
    "bounds": "flush",
    "spacing": 102,
    "resolve": {"scale": {"color": "independent", "theta": "independent"}, "legend": {"color": "independent"}}
   }
  ],
  "columns": 1,
  "spacing": -10,
  "resolve": {"scale": {"color": "independent", "theta": "independent"}, "legend": {"color": "independent"}}
 },
 {
  "concat": [
   {
    "width": 276, "height": 168,
    "title": {"text": "C", "offset": -3},
    "layer": [
     {"data": {"name": "boxC"}, "mark": {"type": "rule", "color": "black", "strokeWidth": 1.2},
      "encoding": {
       "x": {"field": "lo", "type": "quantitative", "title": "Average RLS", "scale": {"domain": [16.8, 44.3], "nice": false, "zero": false}, "axis": {"values": [20, 25, 30, 35, 40], "titlePadding": 1, "tickSize": 4, "labelPadding": 2, "labelFontSize": 14}},
       "x2": {"field": "hi"},
       "y": {"field": "g", "type": "nominal", "title": "Glucose (%)", "scale": {"type": "band", "domain": ["2", "0.5", "0.05"], "paddingInner": 0, "paddingOuter": 0.1}, "axis": {"titleX": -39, "labelPadding": 3}}
      }},
     {"data": {"name": "boxC"}, "mark": {"type": "bar", "fill": "white", "stroke": "#555555", "strokeWidth": 1.5, "height": {"band": 0.74}},
      "encoding": {"x": {"field": "q1", "type": "quantitative", "title": "Average RLS"}, "x2": {"field": "q3"}, "y": {"field": "g", "type": "nominal", "title": "Glucose (%)"}}},
     {"data": {"name": "boxC"}, "mark": {"type": "tick", "color": "black", "thickness": 2.5, "size": 39, "orient": "vertical"},
      "encoding": {"x": {"field": "med", "type": "quantitative", "title": "Average RLS"}, "y": {"field": "g", "type": "nominal", "title": "Glucose (%)"}}},
     {"data": {"name": "ptsC"}, "mark": {"type": "circle", "color": "black", "size": 20, "opacity": 1},
      "encoding": {"x": {"field": "v", "type": "quantitative", "title": "Average RLS"}, "y": {"field": "g", "type": "nominal", "title": "Glucose (%)"}}}
    ]
   },
   {
    "width": 276, "height": 291,
    "title": {"text": "D", "offset": -3},
    "layer": [
     {"data": {"name": "boxD"}, "mark": {"type": "rule", "color": "black", "strokeWidth": 1.2},
      "encoding": {
       "x": {"field": "lo", "type": "quantitative", "title": "Average RLS", "scale": {"domain": [16.8, 44.3], "nice": false, "zero": false}, "axis": {"values": [20, 25, 30, 35, 40], "titlePadding": 1, "labelFontSize": 14.5}},
       "x2": {"field": "hi"},
       "y": {"field": "g", "type": "nominal", "title": "Lab", "scale": {"type": "band", "domain": ["1", "2", "3", "4", "5", "6", "7", "8"], "paddingInner": 0, "paddingOuter": 0.065}, "axis": {"titleX": -39, "labelPadding": 3}}
      }},
     {"data": {"name": "boxD"}, "mark": {"type": "bar", "fill": "white", "stroke": "#555555", "strokeWidth": 1.5, "height": {"band": 0.78}},
      "encoding": {"x": {"field": "q1", "type": "quantitative", "title": "Average RLS"}, "x2": {"field": "q3"}, "y": {"field": "g", "type": "nominal", "title": "Lab"}}},
     {"data": {"name": "boxD"}, "mark": {"type": "tick", "color": "black", "thickness": 2.5, "size": 28, "orient": "vertical"},
      "encoding": {"x": {"field": "med", "type": "quantitative", "title": "Average RLS"}, "y": {"field": "g", "type": "nominal", "title": "Lab"}}},
     {"data": {"name": "ptsD"}, "mark": {"type": "circle", "color": "black", "size": 20, "opacity": 1},
      "encoding": {"x": {"field": "v", "type": "quantitative", "title": "Average RLS"}, "y": {"field": "g", "type": "nominal", "title": "Lab"}}}
    ]
   }
  ],
  "columns": 1,
  "spacing": 12
 }
]
}
